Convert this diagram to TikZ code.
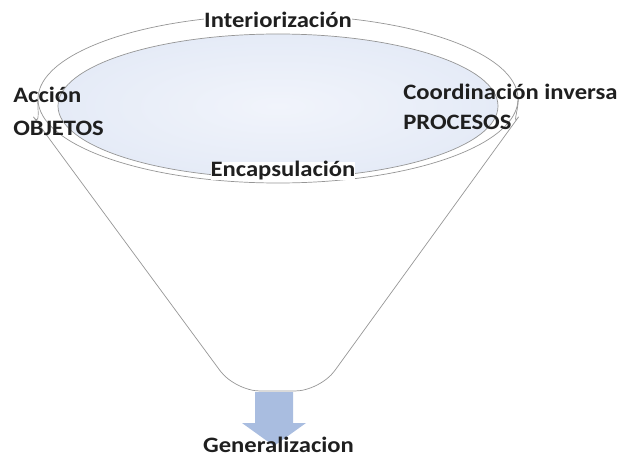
\documentclass[tikz,border=0pt]{standalone}
\usepackage{fontspec}
\setmainfont{Carlito}[FakeStretch=1.12]
\usetikzlibrary{shapes.geometric,positioning}
\definecolor{rimgray}{RGB}{150,150,150}
\definecolor{bowlblue}{RGB}{229,235,247}
\definecolor{bowlcore}{RGB}{241,244,251}
\definecolor{arrowblue}{RGB}{169,189,224}

\begin{document}
\begin{tikzpicture}[x=1pt,y=-1pt,semithick]
\tikzset{lbl/.style={font=\bfseries\fontsize{22}{26}\selectfont,text=black!88,inner sep=0pt}}
\tikzset{rimline/.style={draw=rimgray,line width=0.7pt}}
\useasboundingbox (0,0) rectangle (621,457);

        \node[ellipse,rimline,fill=white,inner sep=0pt,minimum width=480pt,minimum height=168pt]        (rim)  at (278,99)  {};
        \node[ellipse,rimline,inner color=bowlcore,outer color=bowlblue,inner sep=0pt,
              minimum width=440pt,minimum height=144pt]                                                  (bowl) at (278,106) {};

        \coordinate (bl) at (235,391);
        \coordinate (br) at (320,391);
        \coordinate (tail) at (274,392);

        % funnel sides
        \draw[rimline,rounded corners=25pt] (rim.west) .. controls (38,112) and (40,126) .. (48,137)
              -- (bl) -- (br) -- (504,137) .. controls (512,126) and (518,112) .. (rim.east);

        % arrow out of the funnel
        \fill[arrowblue] (tail) ++(-19,0) -- ++(0,31) -- ++(-13,0) -- ++(32,23) -- ++(32,-23)
              -- ++(-13,0) -- ++(0,-31) -- cycle;

        \node[lbl,anchor=base,fill=white]  (int) at ([yshift=-13pt]rim.north) {Interiorización};
        \node[lbl,anchor=base,fill=white]  (enc) at (283,177)                 {Encapsulación};
        \node[lbl,anchor=base west]  (acc) at (13,103)                  {Acción};
        \node[lbl,anchor=base west]  (obj) at ([yshift=-33pt]acc.base west) {OBJETOS};
        \node[lbl,anchor=base west]  (coo) at (403,100)                 {Coordinación inversa};
        \node[lbl,anchor=base west]  (pro) at ([yshift=-30pt]coo.base west) {PROCESOS};
        \node[lbl,anchor=base]       (gen) at (278.5,452)               {Generalizacion};

\end{tikzpicture}
\end{document}
